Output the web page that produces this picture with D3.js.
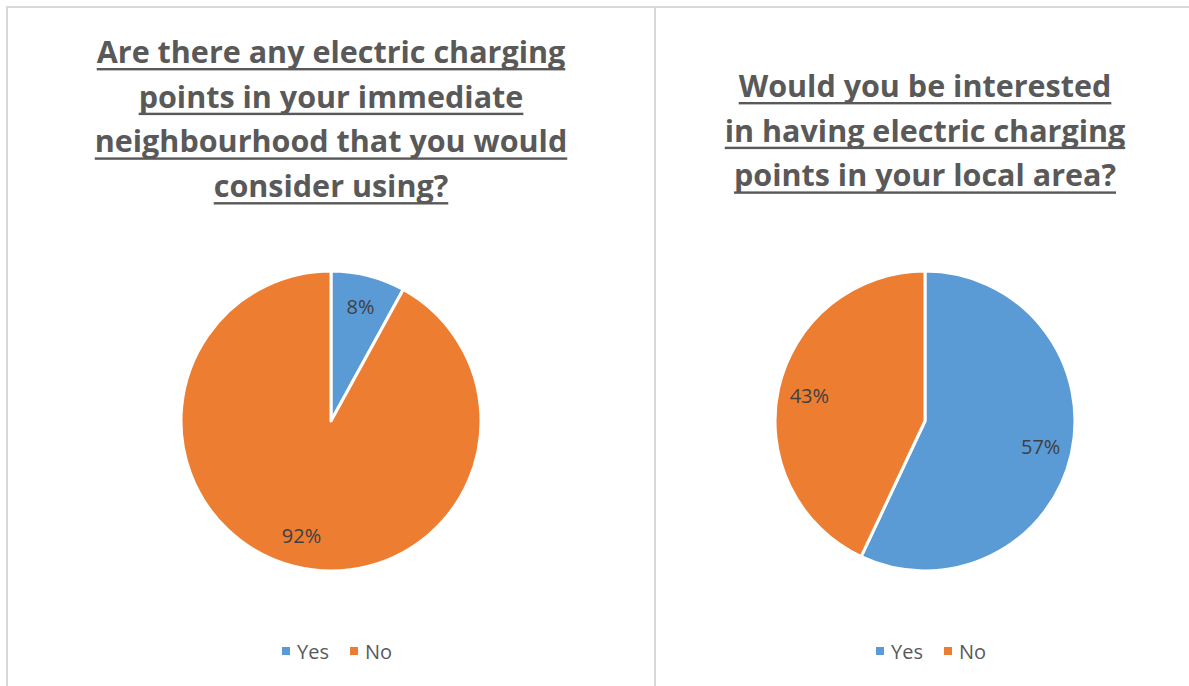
<!DOCTYPE html>
<html>
<head>
<meta charset="utf-8">
<script src="https://cdn.jsdelivr.net/npm/d3@7"></script>
<style>
  html, body { margin: 0; padding: 0; background: #ffffff; }
  svg { display: block; }
</style>
</head>
<body>
<svg id="chart" width="1189" height="686"></svg>
<script>
// Survey answers
const categories = ["Yes", "No"];
const neighbourhoodValues = [8, 92];
const localAreaValues = [57, 43];
const neighbourhoodTitle = [
  "Are there any electric charging",
  "points in your immediate",
  "neighbourhood that you would",
  "consider using?"
];
const localAreaTitle = [
  "Would you be interested",
  "in having electric charging",
  "points in your local area?"
];

const colors = d3.scaleOrdinal().domain(categories).range(["#5B9BD5", "#ED7D31"]);
const svg = d3.select("#chart");
const fontFamily = "'Open Sans', 'Noto Sans', sans-serif";

// Panel frame lines
const frame = svg.append("g").attr("stroke", "#d9d9d9").attr("stroke-width", 2);
frame.append("line").attr("x1", 6).attr("x2", 1189).attr("y1", 7).attr("y2", 7);
frame.append("line").attr("x1", 7).attr("x2", 7).attr("y1", 7).attr("y2", 686);
frame.append("line").attr("x1", 655).attr("x2", 655).attr("y1", 7).attr("y2", 686);

const pie = d3.pie().sort(null).value(d => d.value);
const radius = 150;
const arc = d3.arc().innerRadius(0).outerRadius(radius);
const labelArc = d3.arc().innerRadius(radius * 0.79).outerRadius(radius * 0.79);

function drawPanel(cx, titleLines, titleTop, values) {
  const g = svg.append("g");

  // Underlined bold title
  const title = g.append("g");
  titleLines.forEach((line, i) => {
    const y = titleTop + i * 44.7;
    const t = title.append("text")
      .attr("x", cx).attr("y", y)
      .attr("text-anchor", "middle")
      .attr("font-family", fontFamily)
      .attr("font-weight", "bold")
      .attr("font-size", 30.5)
      .attr("fill", "#595959")
      .text(line);
    const w = t.node().getComputedTextLength();
    title.append("rect")
      .attr("x", cx - w / 2).attr("y", y + 5)
      .attr("width", w).attr("height", 2.4)
      .attr("fill", "#595959");
  });

  // Pie
  const data = categories.map((c, i) => ({ category: c, value: values[i] }));
  const arcs = pie(data);
  const pieG = g.append("g").attr("transform", `translate(${cx},421)`);
  pieG.selectAll("path")
    .data(arcs)
    .join("path")
    .attr("d", arc)
    .attr("fill", d => colors(d.data.category))
    .attr("stroke", "#ffffff")
    .attr("stroke-width", 3)
    .attr("stroke-linejoin", "round");
  pieG.selectAll("text")
    .data(arcs)
    .join("text")
    .attr("transform", d => `translate(${labelArc.centroid(d)})`)
    .attr("text-anchor", "middle")
    .attr("dominant-baseline", "central")
    .attr("font-family", fontFamily)
    .attr("font-size", 20)
    .attr("fill", "#404040")
    .text(d => d.data.value + "%");

  // Legend
  const legend = g.append("g").attr("transform", `translate(${cx - 49},651)`);
  const offsets = [0, 68];
  categories.forEach((c, i) => {
    const item = legend.append("g").attr("transform", `translate(${offsets[i]},0)`);
    item.append("rect").attr("x", 0).attr("y", -4).attr("width", 8).attr("height", 8)
      .attr("fill", colors(c));
    item.append("text").attr("x", 15).attr("y", 0)
      .attr("dominant-baseline", "central")
      .attr("font-family", fontFamily)
      .attr("font-size", 20)
      .attr("fill", "#595959")
      .text(c);
  });
}

drawPanel(331, neighbourhoodTitle, 63, neighbourhoodValues);
drawPanel(925, localAreaTitle, 97, localAreaValues);
</script>
</body>
</html>
